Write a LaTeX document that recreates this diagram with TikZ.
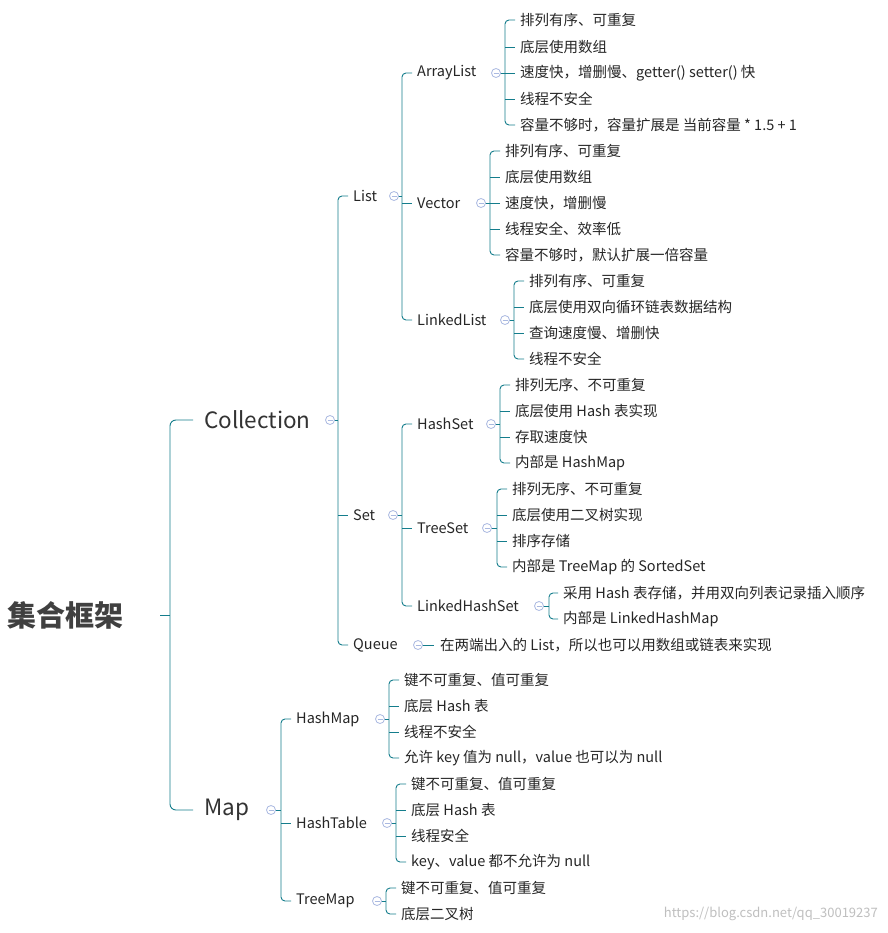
\documentclass[tikz,border=0pt]{standalone}
\usepackage{fontspec}
\setmainfont{Noto Sans CJK SC}
\definecolor{tl}{RGB}{20,125,140}
\definecolor{cc}{RGB}{170,185,225}
\begin{document}
\begin{tikzpicture}[x=1pt,y=-1pt,
 ln/.style={draw=tl,line width=0.9pt},
 cir/.style={draw=cc,line width=0.8pt,fill=white},
 lf/.style={anchor=west,inner sep=0,text=black!85,font=\fontsize{14.5}{16}\selectfont},
 big/.style={anchor=west,inner sep=0,text=black!80,font=\fontsize{22.5}{26}\selectfont}]
\useasboundingbox[fill=white] (0,0) rectangle (887,933);
\newcommand\mmc[4]{% circle x, y, bus x
 \draw[ln] (#1+4,#2)--(#3,#2);
 \draw[cir] (#1,#2) circle(4.5);
 \draw[cc,line width=0.8pt] (#1-2.5,#2)--(#1+2.5,#2);}
\newcommand\mmb[5]{% bus x, child x, ytop, ybot, middle list
 \draw[ln,rounded corners=4] (#2-5,#3)--(#1,#3)--(#1,#4)--(#2-5,#4);
 \foreach \yy in {#5} {\draw[ln] (#1,\yy)--(#2-5,\yy);}}
% root
\node[anchor=west,inner sep=0,text=black!75,font=\fontsize{29}{32}\selectfont\bfseries] (root) at (7,615) {集合框架};
\draw[ln] (160,615)--(170,615);
\draw[ln,rounded corners=6] (193,420)--(170,420)--(170,810)--(193,810);
\node[big] (coll) at (204,420) {Collection};
\node[big] (map) at (204,810) {Map};
% Collection
\mmc{330}{420}{338}{}
\mmb{338}{353}{196}{645}{515}
\node[lf] (list) at (353,196) {List};
\node[lf] (set) at (353,515) {Set};
\node[lf] (queue) at (353,645) {Queue};
% List
\mmc{394}{196}{402}{}
\mmb{402}{417}{73}{320}{203}
\node[lf] (al) at (417,73) {ArrayList};
\node[lf] (vec) at (417,203) {Vector};
\node[lf] (ll) at (417,320) {LinkedList};
% ArrayList
\mmc{496}{73}{505}{}
\mmb{505}{520}{20}{125}{47,73,99}
\node[lf] at (520,20) {排列有序、可重复};
\node[lf] at (520,47) {底层使用数组};
\node[lf] at (520,73) {速度快，增删慢、getter() setter() 快};
\node[lf] at (520,99) {线程不安全};
\node[lf] at (520,125) {容量不够时，容量扩展是 当前容量 * 1.5 + 1};
% Vector
\mmc{481}{203}{490}{}
\mmb{490}{505}{151}{255}{177,203,229}
\node[lf] at (505,151) {排列有序、可重复};
\node[lf] at (505,177) {底层使用数组};
\node[lf] at (505,203) {速度快，增删慢};
\node[lf] at (505,229) {线程安全、效率低};
\node[lf] at (505,255) {容量不够时，默认扩展一倍容量};
% LinkedList
\mmc{505}{320}{514}{}
\mmb{514}{529}{281}{359}{307,333}
\node[lf] at (529,281) {排列有序、可重复};
\node[lf] at (529,307) {底层使用双向循环链表数据结构};
\node[lf] at (529,333) {查询速度慢、增删快};
\node[lf] at (529,359) {线程不安全};
% Set
\mmc{393}{515}{402}{}
\mmb{402}{417}{424}{606}{528}
\node[lf] (hs) at (417,424) {HashSet};
\node[lf] (ts) at (417,528) {TreeSet};
\node[lf] (lhs) at (417,606) {LinkedHashSet};
\mmc{491}{424}{500}{}
\mmb{500}{515}{385}{463}{411,437}
\node[lf] at (515,385) {排列无序、不可重复};
\node[lf] at (515,411) {底层使用 Hash 表实现};
\node[lf] at (515,437) {存取速度快};
\node[lf] at (515,463) {内部是 HashMap};
\mmc{487}{528}{497}{}
\mmb{497}{512}{489}{567}{515,541}
\node[lf] at (512,489) {排列无序、不可重复};
\node[lf] at (512,515) {底层使用二叉树实现};
\node[lf] at (512,541) {排序存储};
\node[lf] at (512,567) {内部是 TreeMap 的 SortedSet};
\mmc{539}{606}{549}{}
\mmb{549}{563}{593}{619}{}
\node[lf] at (563,593) {采用 Hash 表存储，并用双向列表记录插入顺序};
\node[lf] at (563,619) {内部是 LinkedHashMap};
% Queue
\mmc{418}{645}{434}{}
\node[lf] at (440,645) {在两端出入的 List，所以也可以用数组或链表来实现};
% Map
\mmc{271}{810}{281}{}
\mmb{281}{296}{719}{901}{823}
\node[lf] (hm) at (296,719) {HashMap};
\node[lf] (ht) at (296,823) {HashTable};
\node[lf] (tm) at (296,901) {TreeMap};
\mmc{380}{719}{389}{}
\mmb{389}{404}{680}{758}{706,732}
\node[lf] at (404,680) {键不可重复、值可重复};
\node[lf] at (404,706) {底层 Hash 表};
\node[lf] at (404,732) {线程不安全};
\node[lf] at (404,758) {允许 key 值为 null，value 也可以为 null};
\mmc{387}{823}{396}{}
\mmb{396}{411}{784}{862}{810,836}
\node[lf] at (411,784) {键不可重复、值可重复};
\node[lf] at (411,810) {底层 Hash 表};
\node[lf] at (411,836) {线程安全};
\node[lf] at (411,862) {key、value 都不允许为 null};
\mmc{377}{901}{386}{}
\mmb{386}{401}{888}{914}{}
\node[lf] at (401,888) {键不可重复、值可重复};
\node[lf] at (401,914) {底层二叉树};
\node[anchor=east,inner sep=0,text=black!25,font=\fontsize{13}{15}\selectfont] at (878,914) {https://blog.csdn.net/qq\_30019237};
\end{tikzpicture}
\end{document}
